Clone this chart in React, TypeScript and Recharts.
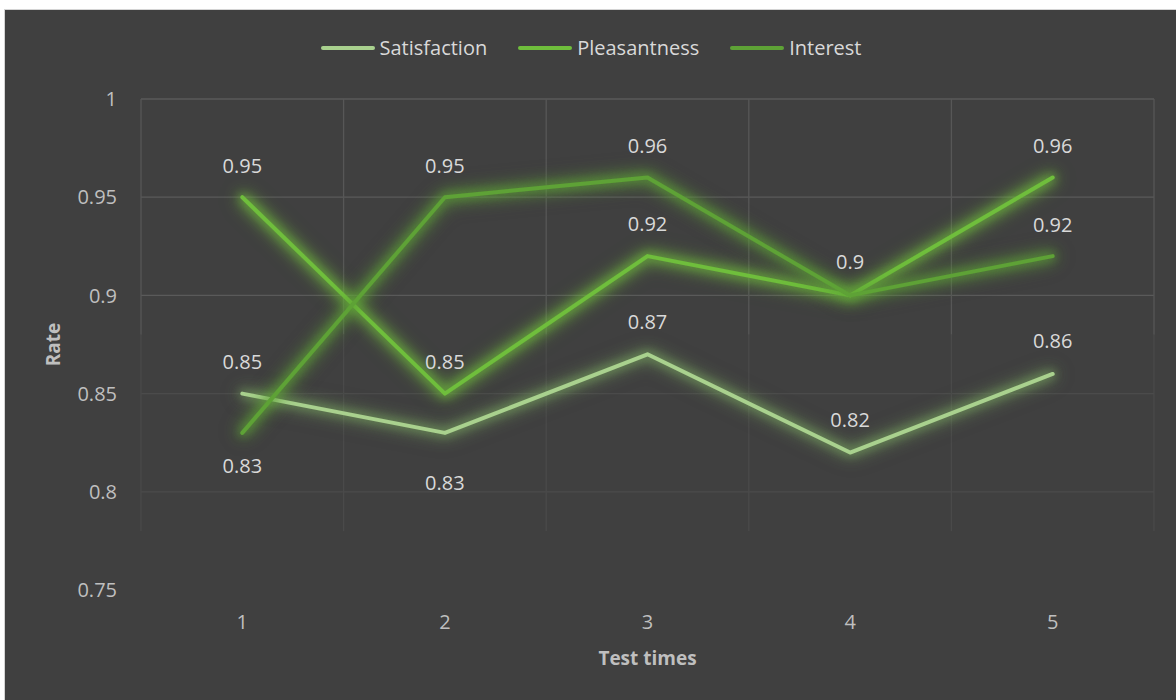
import React from 'react';
import { LineChart, Line, XAxis, YAxis, ReferenceLine, LabelList, Label } from 'recharts';

const testTimes = [1, 2, 3, 4, 5];
const satisfaction = [0.85, 0.83, 0.87, 0.82, 0.86];
const pleasantness = [0.95, 0.85, 0.92, 0.9, 0.96];
const interest = [0.83, 0.95, 0.96, 0.9, 0.92];
const rateTicks = [0.75, 0.8, 0.85, 0.9, 0.95, 1];
const gridRates = [0.8, 0.85, 0.9, 0.95, 1];

const data = testTimes.map((t, i) => ({
  test: t,
  Satisfaction: satisfaction[i],
  Pleasantness: pleasantness[i],
  Interest: interest[i],
}));

const FONT = '"Open Sans", "Noto Sans", sans-serif';

const series = [
  { key: 'Satisfaction', color: '#a9d18e', glow: 'rgba(130,180,100,0.55)', cls: 'glow-sat' },
  { key: 'Pleasantness', color: '#6fbe3c', glow: 'rgba(112,190,60,0.7)', cls: 'glow-plea' },
  { key: 'Interest', color: '#5ea236', glow: 'rgba(94,162,54,0.7)', cls: 'glow-int' },
];

// vertical offset of each data label from its point (null = hidden, overlaps another)
const labelShift: Record<string, (number | null)[]> = {
  Satisfaction: [-32, 50, -33, -33, -33],
  Pleasantness: [-32, -32, -33, -34, -32],
  Interest: [33, -32, -32, null, -32],
};

const makeLabel = (name: string) => (props: any) => {
  const { x, y, index, value } = props;
  const dy = labelShift[name][index];
  if (dy == null) return null;
  return (
    <text x={x} y={y + dy} textAnchor="middle" dominantBaseline="central" fill="#d9d9d9" fontSize={20} fontFamily={FONT}>
      {value}
    </text>
  );
};

const RateTitle = (props: any) => {
  const vb = props.viewBox;
  const cx = vb.x + 53;
  const cy = vb.y + vb.height / 2;
  return (
    <text x={cx} y={cy} transform={`rotate(-90, ${cx}, ${cy})`} textAnchor="middle" dominantBaseline="central"
      fill="#bfbfbf" fontSize={19} fontWeight="bold" fontFamily={FONT}>
      Rate
    </text>
  );
};

const TestTitle = (props: any) => {
  const vb = props.viewBox;
  return (
    <text x={vb.x + vb.width / 2} y={vb.y + 68} textAnchor="middle" dominantBaseline="central"
      fill="#bfbfbf" fontSize={19} fontWeight="bold" fontFamily={FONT}>
      Test times
    </text>
  );
};

const bandEdges = [...testTimes.map((t) => t - 0.5), testTimes[testTimes.length - 1] + 0.5];

export default function App() {
  return (
    <div style={{ position: 'absolute', left: 0, top: 0, width: 1176, height: 700, background: '#fff', overflow: 'hidden' }}>
      <style>{series.map((s) => `.${s.cls} .recharts-line-curve { filter: drop-shadow(0 0 4px ${s.glow}) drop-shadow(0 0 8px ${s.glow}) drop-shadow(0 0 6px ${s.glow}); }`).join('\n')}</style>
      <div style={{ position: 'absolute', left: 4, top: 9, right: 0, bottom: 0, background: '#404040', borderLeft: '1px solid #d4d4d4', borderTop: '1px solid #d4d4d4' }} />
      <div style={{ position: 'absolute', left: 0, top: 34, width: 1176, paddingLeft: 6, boxSizing: 'border-box', display: 'flex', justifyContent: 'center', alignItems: 'center', gap: 31, fontFamily: FONT, fontSize: 20, color: '#d9d9d9' }}>
        {series.map((s) => (
          <div key={s.key} style={{ display: 'flex', alignItems: 'center' }}>
            <div style={{ width: 54, height: 4, borderRadius: 2, background: s.color, marginRight: 5 }} />
            <span>{s.key}</span>
          </div>
        ))}
      </div>
      <div style={{ position: 'absolute', left: 0, top: 0 }}>
        <LineChart width={1176} height={700} data={data} margin={{ top: 99, right: 22, bottom: 0, left: 0 }}>
          {gridRates.map((r) => (
            <ReferenceLine key={`h${r}`} segment={[{ x: bandEdges[0], y: r }, { x: bandEdges[bandEdges.length - 1], y: r }]}
              stroke={r >= 0.9 ? '#5a5a5a' : '#4b4b4b'} strokeWidth={1.3} ifOverflow="visible" />
          ))}
          {bandEdges.map((e) => (
            <ReferenceLine key={`vt${e}`} segment={[{ x: e, y: 0.88 }, { x: e, y: 1 }]} stroke="#575757" strokeWidth={1.3} ifOverflow="visible" />
          ))}
          {bandEdges.map((e) => (
            <ReferenceLine key={`vb${e}`} segment={[{ x: e, y: 0.78 }, { x: e, y: 0.88 }]} stroke="#4a4a4a" strokeWidth={1.3} ifOverflow="visible" />
          ))}
          <XAxis type="number" dataKey="test" domain={[bandEdges[0], bandEdges[bandEdges.length - 1]]} ticks={testTimes}
            tickLine={false} axisLine={false} tickSize={0} tickMargin={25} height={110}
            tick={{ fill: '#bfbfbf', fontSize: 20, fontFamily: FONT }}>
            <Label content={TestTitle} />
          </XAxis>
          <YAxis type="number" domain={[0.75, 1]} ticks={rateTicks} width={141}
            tickFormatter={(v: number) => `${+v.toFixed(2)}`}
            tickLine={false} axisLine={false} tickSize={0} tickMargin={24}
            tick={{ fill: '#bfbfbf', fontSize: 20, fontFamily: FONT }}>
            <Label content={RateTitle} />
          </YAxis>
          {series.map((s) => (
            <Line key={s.key} className={s.cls} type="linear" dataKey={s.key} stroke={s.color} strokeWidth={4}
              strokeLinecap="round" strokeLinejoin="round" dot={false} activeDot={false} isAnimationActive={false}>
              <LabelList dataKey={s.key} content={makeLabel(s.key)} />
            </Line>
          ))}
        </LineChart>
      </div>
    </div>
  );
}
